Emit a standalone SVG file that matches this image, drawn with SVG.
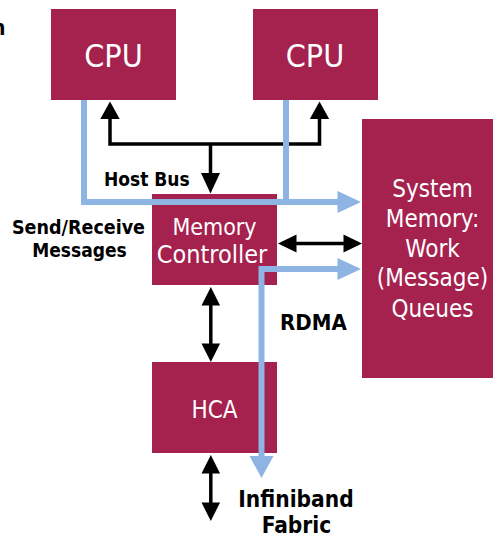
<svg xmlns="http://www.w3.org/2000/svg" width="494" height="537" viewBox="0 0 494 537">
<style>
.box{fill:#A5214E}
.nt{font-family:"DejaVu Sans Condensed","DejaVu Sans",sans-serif;fill:#ffffff;text-anchor:middle;font-size:24px}
.lb{font-family:"DejaVu Sans Condensed","DejaVu Sans",sans-serif;font-weight:bold;fill:#000000;font-size:19px}
.bl{fill:none;stroke:#000000;stroke-width:3.5}
.bu{fill:none;stroke:#8DB4E2;stroke-width:6}
.bh{fill:#000000}
.uh{fill:#8DB4E2}
</style>
<rect width="494" height="537" fill="#ffffff"/>
<text class="lb" x="5.5" y="35" text-anchor="end" style="font-size:21px">n</text>
<g id="cpu1"><rect class="box" x="51" y="9" width="125" height="91"/><text class="nt" x="113.5" y="67" style="font-size:32px">CPU</text></g>
<g id="cpu2"><rect class="box" x="253" y="9" width="125" height="91"/><text class="nt" x="315" y="67" style="font-size:32px">CPU</text></g>
<g id="sysmem"><rect class="box" x="362" y="119" width="131" height="259"/>
<text class="nt" x="432.5" y="197">System</text>
<text class="nt" x="432.5" y="227">Memory:</text>
<text class="nt" x="432.5" y="257">Work</text>
<text class="nt" x="432.5" y="286">(Message)</text>
<text class="nt" x="432.5" y="317">Queues</text></g>
<g id="memctrl"><rect class="box" x="152" y="194" width="125" height="91"/>
<text class="nt" x="214.5" y="235" style="font-size:23px">Memory</text>
<text class="nt" x="212" y="263" style="font-size:25px">Controller</text></g>
<g id="hca"><rect class="box" x="152" y="362" width="125" height="91"/><text class="nt" x="214.5" y="418">HCA</text></g>
<g id="connectors">
<path class="bl" d="M110,117 V144 H319.5 V117"/>
<polygon class="bh" points="110,101.5 100.3,119 119.7,119"/>
<polygon class="bh" points="319.5,101.5 309.8,119 329.2,119"/>
<path class="bl" d="M210.5,144 V175"/>
<polygon class="bh" points="210.5,193.5 201,173 220,173"/>
<path class="bl" d="M294,243.5 H345"/>
<polygon class="bh" points="278,243.5 296.5,234.5 296.5,252.5"/>
<polygon class="bh" points="362,243.5 343.5,234.5 343.5,252.5"/>
<path class="bl" d="M210.8,303 V346"/>
<polygon class="bh" points="210.8,287 201.5,305.5 220.1,305.5"/>
<polygon class="bh" points="210.8,362 201.5,343.5 220.1,343.5"/>
<path class="bl" d="M210.8,471 V505"/>
<polygon class="bh" points="210.8,455 201.5,473.5 220.1,473.5"/>
<polygon class="bh" points="210.8,521 201.5,502.5 220.1,502.5"/>
<path class="bu" d="M84,100 V202 H340"/>
<path class="bu" d="M286,100 V202"/>
<polygon class="uh" points="361,202 337.5,191 337.5,213"/>
<path class="bu" d="M340,269 H261.5 V458"/>
<polygon class="uh" points="361,269 337.5,258 337.5,280"/>
<polygon class="uh" points="261.5,478 249.5,456 273.5,456"/>
</g>
<text class="lb" x="104" y="186">Host Bus</text>
<text class="lb" x="78.5" y="234" text-anchor="middle" style="font-size:19.5px">Send/Receive</text>
<text class="lb" x="79.5" y="257" text-anchor="middle">Messages</text>
<text class="lb" x="280" y="330" style="font-size:22px">RDMA</text>
<text class="lb" x="296" y="507" text-anchor="middle" style="font-size:22.5px">Infiniband</text>
<text class="lb" x="296.5" y="533" text-anchor="middle" style="font-size:22.5px">Fabric</text>
</svg>
